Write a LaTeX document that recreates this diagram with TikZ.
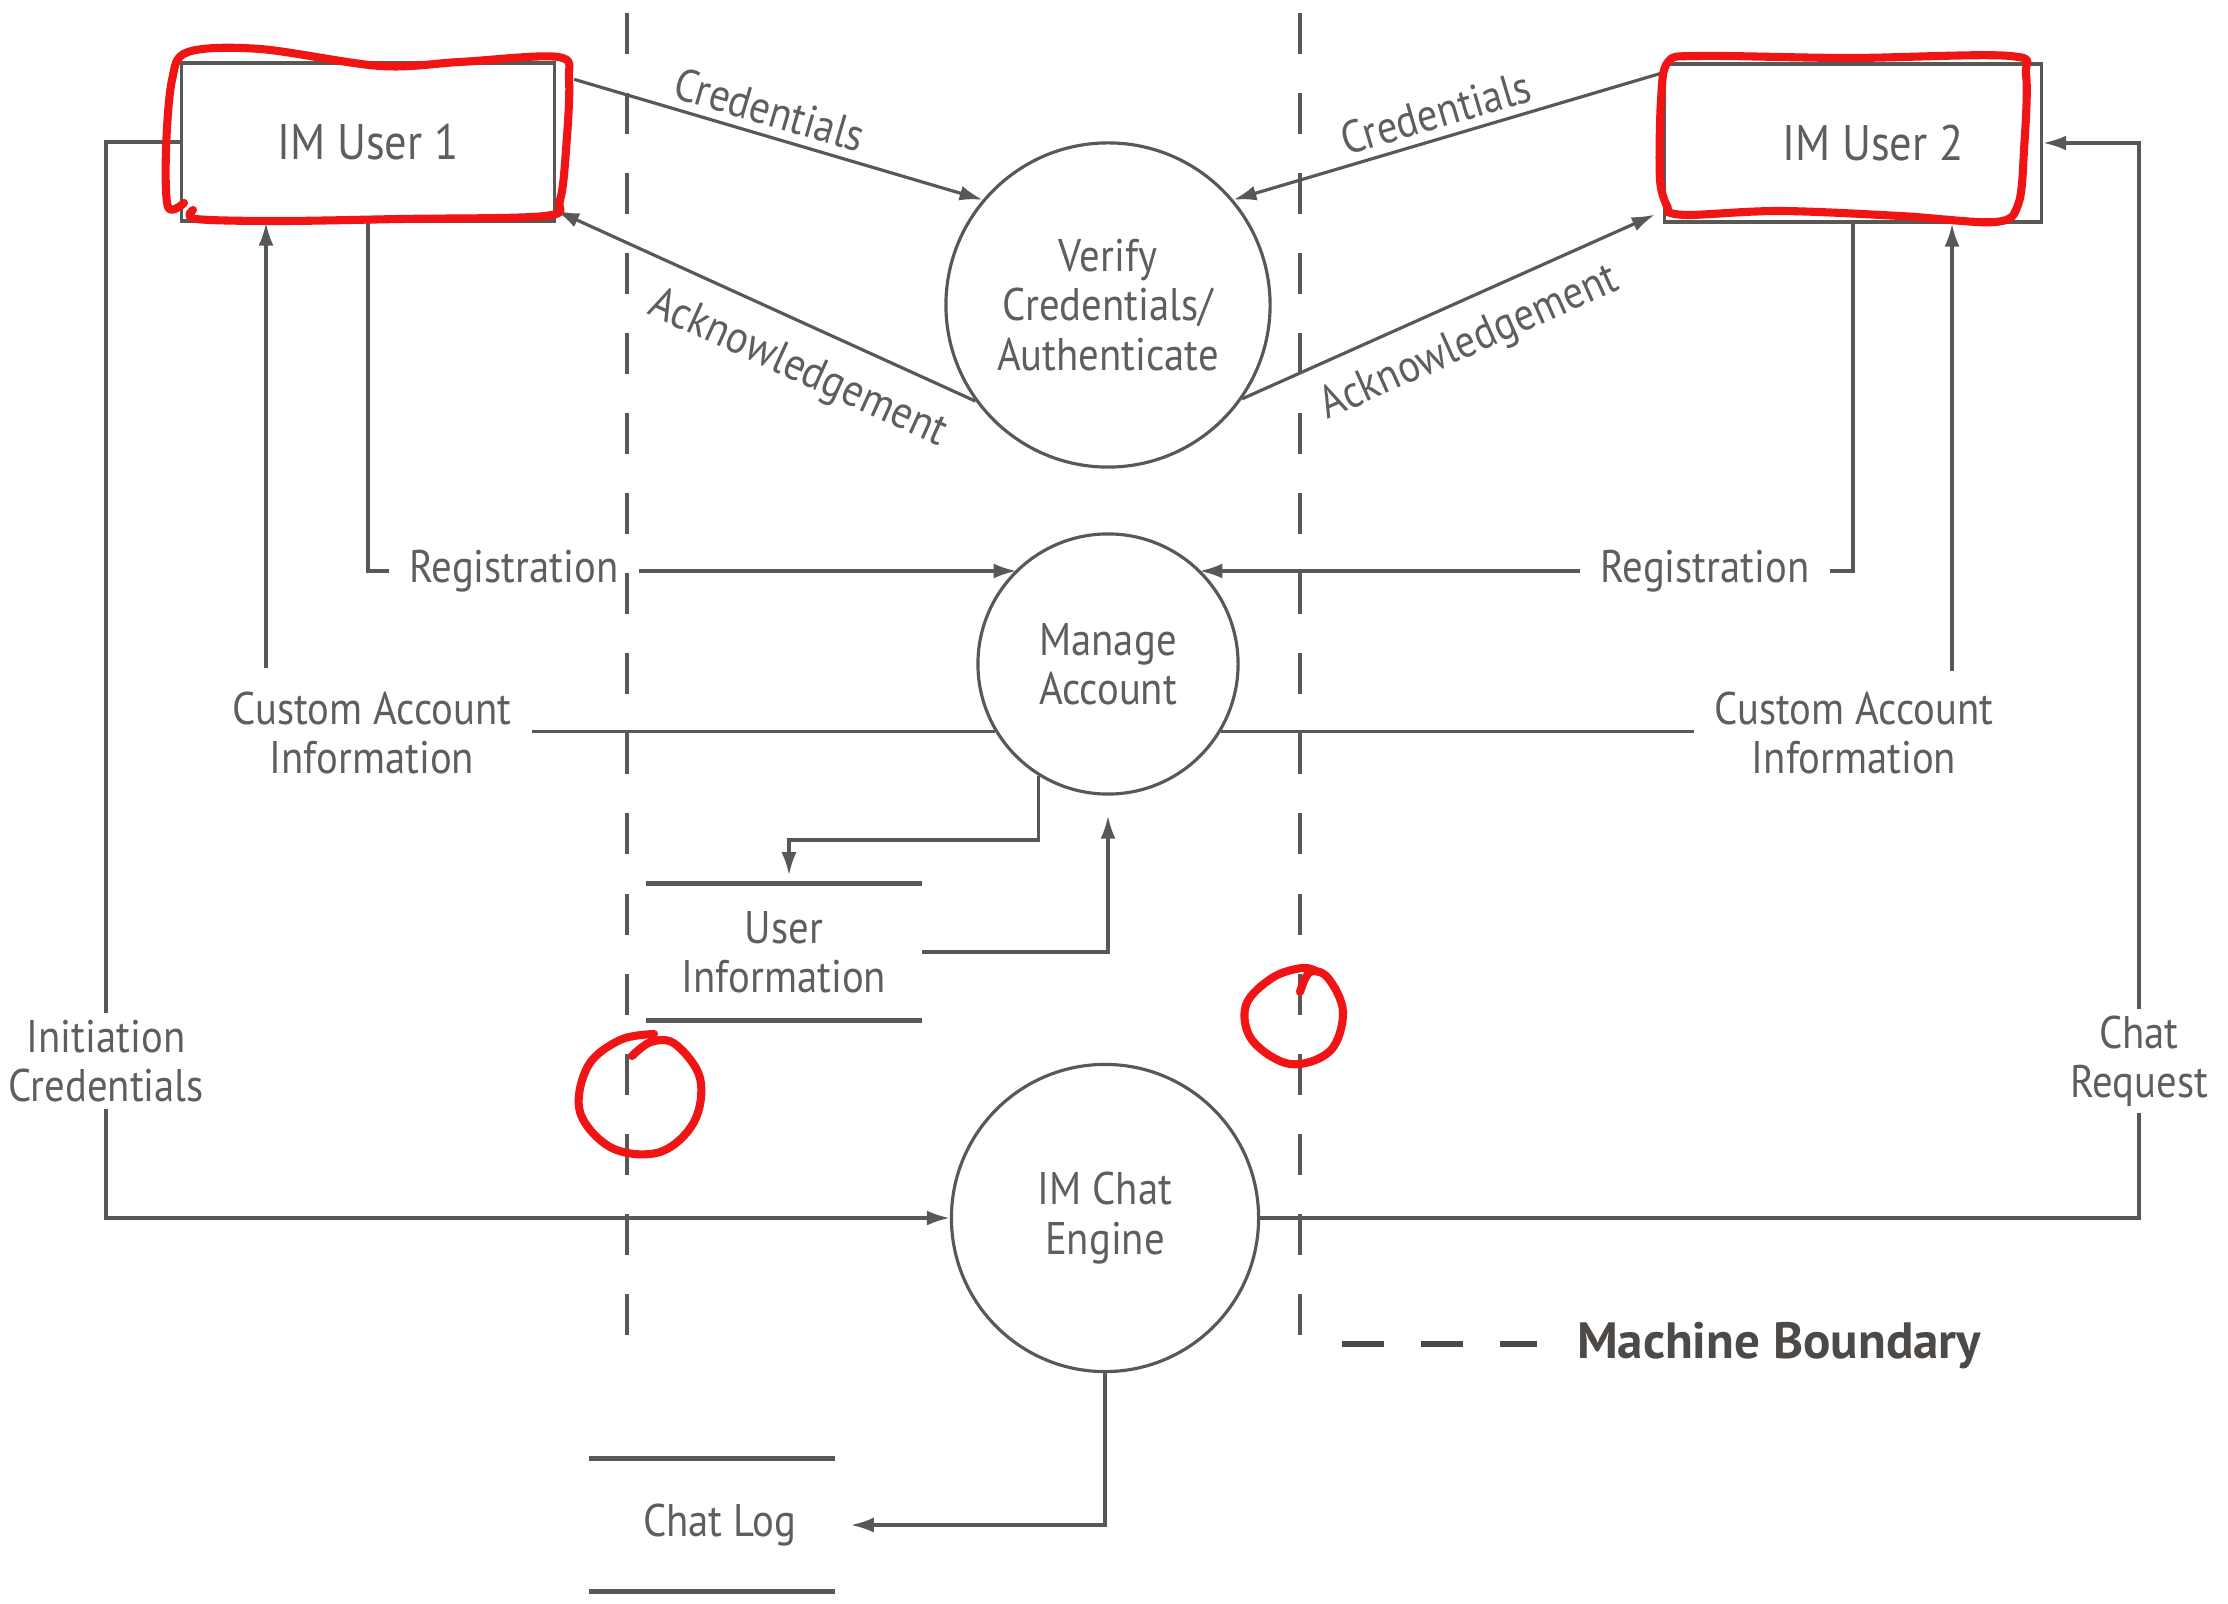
\documentclass[tikz,border=0pt]{standalone}
\usepackage{fontspec}
\setmainfont{PT Sans}[FakeStretch=0.89]
\newfontfamily\legendfont{PT Sans}
\usetikzlibrary{arrows.meta,calc}

\definecolor{ink}{HTML}{5A5854}
\definecolor{txt}{HTML}{5F5E5B}
\definecolor{legendink}{HTML}{4C4946}
\definecolor{pen}{HTML}{F01414}

\begin{document}
\begin{tikzpicture}[x=0.01cm,y=-0.01cm,
  font=\fontsize{13}{14}\selectfont,
  wire/.style={draw=ink, line width=0.9pt},
  flow/.style={wire, -{Latex[length=0.23cm,width=0.15cm]}},
  back/.style={wire, {Latex[length=0.23cm,width=0.15cm]}-},
  entity/.style={draw=ink, line width=0.9pt, inner sep=0, text=txt,
    font=\fontsize{14.2}{15}\selectfont,
    minimum width=3.73cm, minimum height=1.58cm},
  process/.style={circle, draw=ink, line width=0.9pt, inner sep=0,
    align=center, text=txt},
  lbl/.style={text=txt, align=center, inner xsep=0.2cm, inner ysep=0.06cm},
  onpath/.style={text=txt, inner sep=0.08cm, sloped},
  store/.style={inner sep=0, text=txt, align=center},
  storeline/.style={draw=ink, line width=1.3pt},
  boundary/.style={draw=ink, line width=1.4pt, dash pattern=on 0.41cm off 0.39cm},
  legenddash/.style={draw=legendink, line width=1.8pt, dash pattern=on 0.42cm off 0.37cm},
  pencil/.style={draw=pen, line width=2.3pt, line cap=round, line join=round}]

\useasboundingbox (0,0) rectangle (2228,1604);
\fill[white] (0,0) rectangle (2228,1604);

% machine boundaries
\draw[boundary] (627,13) -- (627,1345);
\draw[boundary] (1300,13) -- (1300,1345);

% external entities
\node[entity] (u1) at (368,142) {IM User 1};
\node[entity, minimum width=3.77cm] (u2) at (1853,143) {\hspace*{0.4cm}IM User 2};

% processes
\node[process, minimum size=3.24cm] (verify) at (1108,305) {Verify\\Credentials/\\Authenticate};
\node[process, minimum size=2.6cm] (manage) at (1108,664) {Manage\\Account};
\node[process, minimum size=3.07cm] (chat) at (1105,1218) {IM Chat\\Engine};

% data stores
\node[store, minimum width=2.74cm, minimum height=1.36cm] (ui) at (784,952) {User\\Information};
\draw[storeline] (ui.north west) -- (ui.north east);
\draw[storeline] (ui.south west) -- (ui.south east);
\node[store, minimum width=2.44cm, minimum height=1.32cm] (log) at (712,1525) {\hspace*{0.15cm}Chat Log};
\draw[storeline] (log.north west) -- (log.north east);
\draw[storeline] (log.south west) -- (log.south east);

% flow labels
\node[lbl] (reg1) at (514,571) {Registration};
\node[lbl] (reg2) at (1705,571) {Registration};
\node[lbl] (cai1) at (372,733) {Custom Account\\Information};
\node[lbl] (cai2) at (1854,733) {Custom Account\\Information};
\node[lbl] (ic) at (106,1061) {Initiation\\Credentials};
\node[lbl] (cr) at (2139,1061) {Chat\\Request};

% authentication
\draw[flow] ($(u1.north east)+(18,18)$) -- node[onpath, above, pos=0.46] {Credentials} (verify.140);
\draw[back] ($(u1.south east)+(0,-12)$) -- node[onpath, below=0.14cm, pos=0.62] {Acknowledgement} (verify.216);
\draw[back] (verify.40) -- node[onpath, above, pos=0.49] {Credentials} ($(u2.north west)+(-2,11)$);
\draw[flow] (verify.-35) -- node[onpath, below=0.12cm, pos=0.51] {Acknowledgement} ($(u2.south west)+(-8,-9)$);

% account management
\draw[wire] (u1.south) |- (reg1.west);
\draw[flow] (reg1.east) -- (reg1.east -| manage.134);
\draw[wire] (u2.south) |- (reg2.east);
\draw[flow] (reg2.west) -- (reg2.west -| manage.46);

\coordinate (cai1top) at (266,668);
\draw[flow] (cai1top) -- (cai1top |- u1.south);
\draw[wire] (manage.211) -- (manage.211 -| cai1.east);
\coordinate (cai2top) at (1952,671);
\draw[flow] (cai2top) -- (cai2top |- u2.south);
\draw[wire] (manage.-31) -- (manage.-31 -| cai2.west);

\coordinate (uibend) at (789,840);
\draw[flow, shorten >=0.08cm] (manage.238) |- (uibend) -- (uibend |- ui.north);
\draw[flow, shorten >=0.2cm] (ui.east) -| (manage.south);

% chat session
\draw[wire] (u1.west) -| (ic.north);
\draw[flow] (ic.south) |- (chat.west);
\draw[wire] (chat.east) -| (cr.south);
\draw[flow] (cr.north) |- (u2.east);
\draw[flow, shorten >=0.16cm] (chat.south) |- (log.east);

% legend
\draw[legenddash] (1342,1344) -- (1537,1344);
\node[text=legendink, font=\legendfont\fontsize{14.5}{16}\selectfont\bfseries, inner sep=0] (legend) at (1779,1346) {Machine Boundary};

% red pen marks
\draw[pencil] plot[smooth, tension=0.55] coordinates {(184,203) (168,207) (166,150) (172,80) (188,52) (260,49) (380,66) (460,62) (558,57) (569,80) (566,150) (560,200) (545,216) (400,219) (280,221) (196,219) (193,210)};
\draw[pencil] plot[smooth, tension=0.55] coordinates {(1668,208) (1660,180) (1661,100) (1668,62) (1700,56) (1850,58) (2010,56) (2026,75) (2024,150) (2018,205) (1995,222) (1900,216) (1780,211) (1690,215) (1668,212)};
\draw[pencil] plot[smooth, tension=0.6] coordinates {(632,1056) (651,1042) (675,1044) (700,1078) (694,1122) (660,1152) (612,1148) (580,1112) (588,1066) (620,1040) (654,1034)};
\draw[pencil] plot[smooth, tension=0.6] coordinates {(1300,992) (1310,972) (1328,978) (1343,1012) (1330,1051) (1290,1064) (1252,1040) (1246,1005) (1272,978) (1302,968) (1318,972)};
\end{tikzpicture}
\end{document}
